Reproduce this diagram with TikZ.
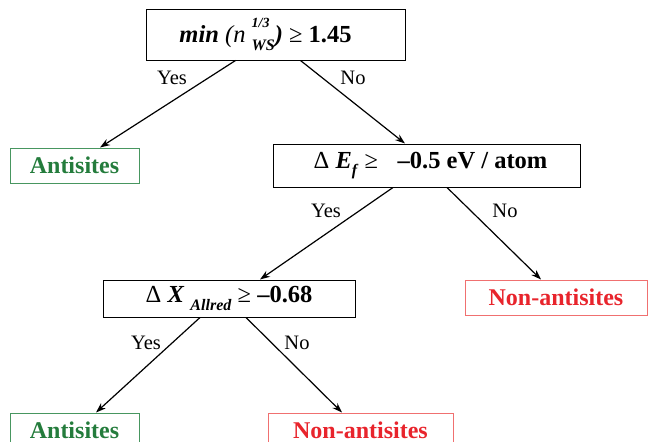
\documentclass[tikz,border=0pt]{standalone}
\usepackage{fontspec}
\setmainfont{Liberation Serif}
\usetikzlibrary{arrows.meta, positioning, shapes}
\definecolor{antigreen}{RGB}{36,124,60}
\definecolor{antigreenline}{RGB}{72,150,96}
\definecolor{nonred}{RGB}{232,36,44}
\definecolor{nonredline}{RGB}{240,112,112}
\tikzset{
  test/.style={draw, line width=1pt, inner sep=0pt, font=\fontsize{24.5}{28}\selectfont},
  leafbox/.style={draw, line width=1pt, inner sep=0pt, minimum height=35pt,
    font=\fontsize{24}{28}\selectfont\bfseries},
  anti/.style={leafbox, draw=antigreenline, text=antigreen, minimum width=129pt},
  nonanti/.style={leafbox, draw=nonredline, text=nonred},
  answer/.style={font=\fontsize{20.5}{24}\selectfont},
  branch/.style={-{Stealth[length=10pt,width=7pt]}, line width=1.2pt}
}
\newcommand{\bi}[1]{\textbf{\textit{#1}}}
\newcommand{\lowidx}[1]{\raisebox{-0.3em}{\fontsize{16}{17}\selectfont\bi{#1}}}
\begin{document}
\begin{tikzpicture}[x=1pt, y=-1pt]
\useasboundingbox (0,0) rectangle (649,442);
\clip (0,0) rectangle (649,442);

\node[test, minimum width=259pt, minimum height=51pt] (root) at (275.5,34.5)
  {\bi{min} \textit{(n} \rlap{\raisebox{0.62em}{\fontsize{14}{15}\selectfont\bi{1/3}}}\lowidx{WS}\bi{)} ≥ \textbf{1.45}\kern20pt};
\node[test, minimum width=307pt, minimum height=43pt] (ef) at (426.5,165.5)
  {\kern8pt Δ \bi{E}\lowidx{f} ≥\hspace{0.8em}\textbf{–0.5 eV / atom}};
\node[test, minimum width=252pt, minimum height=37pt] (chi) at (229,298.5)
  {Δ \bi{X} \lowidx{Allred} ≥ \textbf{–0.68}};

\node[anti] (anti1) at (74.5,165.5) {Antisites};
\node[nonanti, minimum width=182pt] (non1) at (556,297.5) {Non-antisites};
\node[anti] (anti2) at (74.5,430.5) {Antisites};
\node[nonanti, minimum width=185pt] (non2) at (360.5,430.5) {Non-antisites};

\draw[branch] ([xshift=-40pt]root.south) -- ([xshift=25.5pt]anti1.north);
\draw[branch] ([xshift=25pt]root.south) -- ([xshift=-21.5pt]ef.north);
\draw[branch] ([xshift=-33.5pt]ef.south) -- ([xshift=31pt]chi.north);
\draw[branch] ([xshift=20.5pt]ef.south) -- ([xshift=-15pt]non1.north);
\draw[branch] ([xshift=-29pt]chi.south) -- ([xshift=21.5pt]anti2.north);
\draw[branch] ([xshift=17pt]chi.south) -- ([xshift=-18.5pt]non2.north);

\node[answer] (yes1) at (172,78) {Yes};
\node[answer] (no1) at (353,78) {No};
\node[answer] (yes2) at (326,211) {Yes};
\node[answer] (no2) at (505,211) {No};
\node[answer] (yes3) at (146,343) {Yes};
\node[answer] (no3) at (297,343) {No};
\end{tikzpicture}
\end{document}
